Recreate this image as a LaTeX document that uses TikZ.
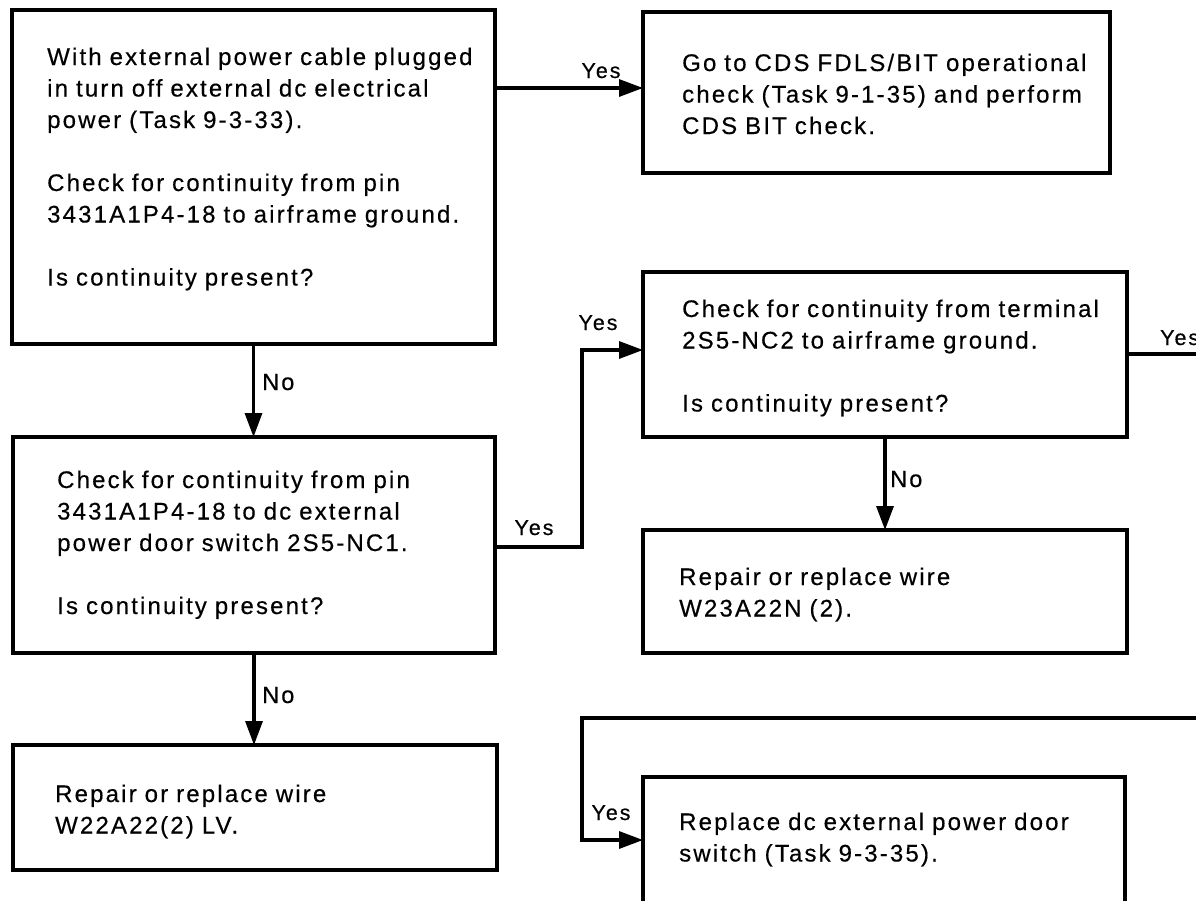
\documentclass[tikz,border=0pt]{standalone}
\usepackage{fontspec}
\setmainfont{Liberation Sans}[LetterSpace=9, FakeBold=0.4]
\usetikzlibrary{arrows.meta}
\begin{document}
\begin{tikzpicture}[x=1pt,y=-1pt,
  box/.style={draw=black, line width=3.2pt, rectangle, inner sep=0pt, outer sep=0pt},
  txt/.style={anchor=base west, inner sep=0pt, text width=620pt, align=left, font=\fontsize{24}{31.5}\selectfont},
  lab/.style={anchor=base, inner sep=0pt, font=\fontsize{21.5}{24}\selectfont},
  nolab/.style={anchor=base west, inner sep=0pt, font=\fontsize{23.5}{26}\selectfont},
  conn/.style={line width=3.2pt},
  arr/.style={conn, -{Triangle[length=24pt,width=17pt]}}
]
\useasboundingbox (0,0) rectangle (1196,900);
\fill[white] (0,0) rectangle (1196,900);
\clip (0,0) rectangle (1196,900);

% boxes
\node[box, minimum width=483pt, minimum height=334pt] (b1) at (253.5,177) {};
\node[box, minimum width=467pt, minimum height=161pt] (b2) at (876.5,92.5) {};
\node[box, minimum width=482pt, minimum height=216pt] (b3) at (254,545) {};
\node[box, minimum width=484pt, minimum height=165pt] (b4) at (885,354.5) {};
\node[box, minimum width=484pt, minimum height=123pt] (b5) at (885,591.5) {};
\node[box, minimum width=484pt, minimum height=125pt] (b6) at (255,807.5) {};
\node[box, minimum width=482pt, minimum height=133pt] (b7) at (884,843.5) {};

% texts
\node[txt] (t1) at (47,65) {With external power cable plugged\\ in turn off external dc electrical\\ power (Task 9-3-33).\\[31.5pt] Check for continuity from pin\\ 3431A1P4-18 to airframe ground.\\[31.5pt] Is continuity present?};
\node[txt] (t2) at (682,71) {Go to CDS FDLS/BIT operational\\ check (Task 9-1-35) and perform\\ CDS BIT check.};
\node[txt] (t3) at (57,488) {Check for continuity from pin\\ 3431A1P4-18 to dc external\\ power door switch 2S5-NC1.\\[31.5pt] Is continuity present?};
\node[txt] (t4) at (682,317) {Check for continuity from terminal\\ 2S5-NC2 to airframe ground.\\[31.5pt] Is continuity present?};
\node[txt] (t5) at (679,585) {Repair or replace wire\\ W23A22N (2).};
\node[txt] (t6) at (55,802) {Repair or replace wire\\ W22A22(2) LV.};
\node[txt] (t7) at (679,830) {Replace dc external power door\\ switch (Task 9-3-35).};

% junction coordinates
\coordinate (j1) at (582,547);
\coordinate (j2) at (582,350);
\coordinate (e1) at (1210,354);
\coordinate (e2) at (1210,718);
\coordinate (j3) at (582,718);
\coordinate (j4) at (582,840);
\coordinate (y1) at (0,88);

% connectors
\draw[arr] (b1.east |- y1) -- (b2.west |- y1);
\draw[arr] (b1.south) -- (b1.south |- b3.north);
\draw[arr] (b3.south) -- (b3.south |- b6.north);
\draw[arr] (b3.east |- j1) -- (j1) -- (j2) -- (b4.west |- j2);
\draw[arr] (b4.south) -- (b5.north);
\draw[conn] (b4.east |- e1) -- (e1);
\draw[arr] (e2) -- (j3) -- (j4) -- (b7.west |- j4);

% labels
\node[lab] (l1) at (601,78) {Yes};
\node[nolab] (l2) at (262,390) {No};
\node[nolab] (l3) at (262,703) {No};
\node[lab] (l4) at (534,535) {Yes};
\node[lab] (l5) at (598,330) {Yes};
\node[nolab] (l6) at (890,487) {No};
\node[lab, anchor=base west] (l7) at (1160,345) {Yes};
\node[lab] (l8) at (611,820) {Yes};
\end{tikzpicture}
\end{document}
